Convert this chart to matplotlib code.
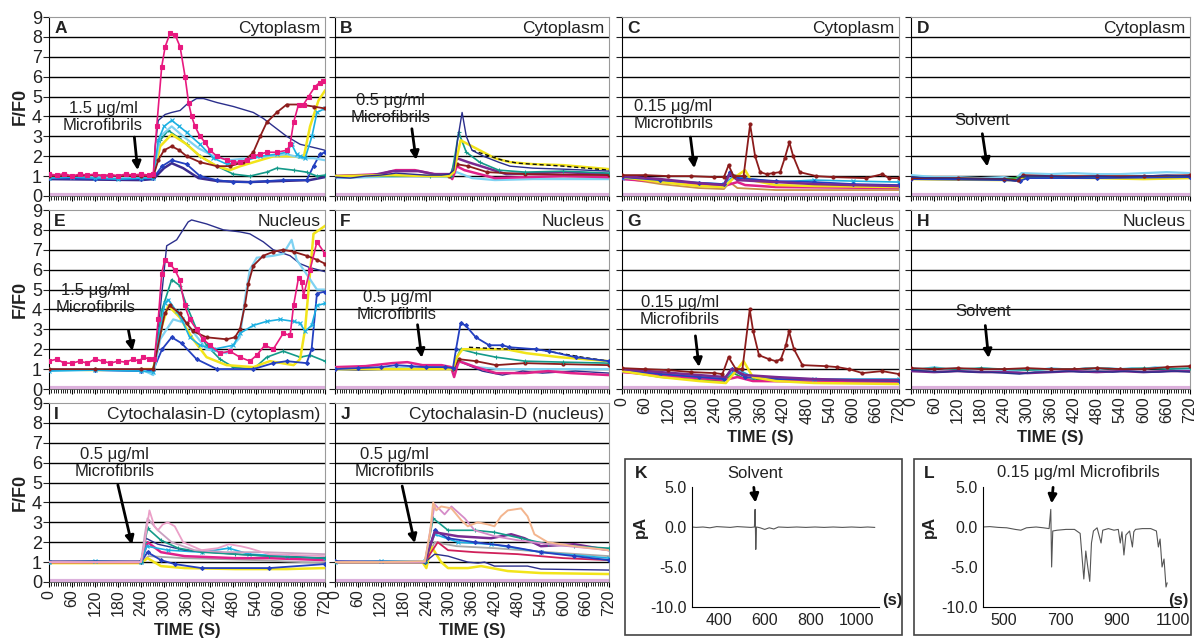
import matplotlib.pyplot as plt
from matplotlib.patches import Rectangle
from matplotlib.ticker import MultipleLocator

plt.rcParams['font.family'] = ['Liberation Sans', 'DejaVu Sans']

# ---- calcium imaging traces, (time s, F/F0) knots ----
A_PINK = [(0, 1.1), (20, 1.05), (40, 1.12), (60, 1.0), (80, 1.1), (100, 1.05), (120, 1.1), (140, 1.0),
          (160, 1.08), (180, 1.02), (200, 1.1), (220, 1.05), (240, 1.1), (260, 1.05), (272, 1.1),
          (281, 3.5), (294, 6.5), (303, 7.5), (316, 8.2), (329, 8.1), (342, 7.5), (355, 6.0), (364, 4.7),
          (372, 4.0), (381, 3.5), (394, 3.0), (407, 2.7), (420, 2.3), (438, 2.0), (464, 1.8), (481, 1.7),
          (499, 1.7), (516, 1.8), (533, 2.0), (550, 2.1), (568, 2.2), (594, 2.2), (621, 2.3), (629, 2.6),
          (638, 3.7), (651, 4.6), (664, 4.6), (677, 5.0), (694, 5.5), (706, 5.7), (716, 5.8)]
A_NAVY = [(0, 1.0), (60, 0.95), (120, 0.9), (180, 0.92), (240, 0.9), (272, 0.95), (277, 2.5), (285, 3.8),
          (303, 4.1), (320, 4.2), (342, 4.3), (359, 4.6), (385, 4.9), (403, 4.9), (438, 4.7), (481, 4.5),
          (533, 4.2), (559, 3.9), (586, 3.5), (620, 3.0), (655, 2.6), (699, 2.4), (720, 2.3)]
A_BROWN = [(0, 1.0), (60, 1.0), (120, 1.05), (180, 1.0), (240, 1.0), (272, 1.0), (285, 1.8), (300, 2.3),
           (320, 2.5), (340, 2.3), (359, 2.0), (394, 1.7), (438, 1.5), (472, 1.5), (507, 1.7), (533, 2.2),
           (551, 3.0), (568, 3.7), (594, 4.2), (620, 4.6), (655, 4.6), (690, 4.5), (720, 4.4)]
A_CYAN = [(0, 0.9), (60, 0.95), (120, 0.9), (180, 0.85), (240, 0.9), (272, 0.9), (285, 2.8), (300, 3.5),
          (320, 3.8), (340, 3.5), (359, 3.2), (394, 2.6), (429, 1.9), (464, 1.6), (499, 1.7), (551, 2.0),
          (594, 2.1), (620, 2.2), (633, 2.6), (646, 2.1), (655, 2.0), (668, 1.9), (686, 3.0), (699, 4.2),
          (720, 4.4)]
A_SKY = [(0, 1.0), (120, 0.95), (240, 0.95), (272, 1.0), (290, 3.0), (320, 3.5), (350, 3.0), (390, 2.4),
         (430, 2.0), (470, 1.8), (520, 1.9), (570, 2.0), (620, 2.1), (660, 1.9), (690, 1.9), (720, 1.8)]
A_YELLOW = [(0, 1.0), (120, 1.0), (240, 0.95), (272, 1.0), (290, 2.5), (320, 3.1), (359, 2.6), (394, 2.0),
            (438, 1.5), (472, 1.3), (499, 1.5), (551, 1.8), (586, 2.0), (638, 2.0), (664, 1.9), (681, 3.5),
            (703, 4.8), (720, 5.3)]
A_TEAL = [(0, 1.0), (120, 1.0), (240, 0.95), (272, 1.0), (290, 2.8), (311, 3.3), (340, 2.9), (359, 2.6),
          (394, 2.0), (438, 1.5), (481, 1.1), (524, 1.0), (568, 1.2), (594, 1.4), (638, 1.3), (672, 1.2),
          (699, 1.0), (720, 1.05)]
A_BLUE = [(0, 0.9), (120, 0.85), (240, 0.85), (272, 0.9), (295, 1.5), (320, 1.8), (359, 1.6), (394, 1.0),
          (438, 0.8), (481, 0.7), (524, 0.7), (568, 0.75), (611, 0.8), (672, 0.8), (690, 1.5), (707, 2.1),
          (720, 2.2)]
A_INDIGO = [(0, 0.85), (240, 0.8), (272, 0.85), (300, 1.4), (320, 1.65), (350, 1.4), (390, 0.9), (440, 0.75),
            (520, 0.7), (600, 0.75), (680, 0.8), (720, 0.95)]

B_NAVY = [(0, 0.95), (40, 0.9), (80, 1.0), (120, 1.05), (160, 1.15), (200, 1.1), (240, 1.05), (280, 1.05),
          (300, 1.1), (312, 1.3), (322, 2.8), (334, 4.2), (345, 3.0), (360, 2.3), (390, 2.0), (430, 1.7),
          (460, 1.5), (520, 1.4), (600, 1.35), (660, 1.3), (720, 1.25)]
B_YELLOW = [(0, 1.0), (150, 1.05), (250, 1.0), (300, 1.0), (312, 1.2), (330, 2.8), (350, 2.6), (380, 2.3),
            (420, 1.9), (460, 1.7), (520, 1.6), (600, 1.55), (660, 1.45), (720, 1.35)]
B_BLACK = [(360, 2.3), (400, 2.05), (440, 1.8), (480, 1.65), (520, 1.6), (600, 1.5), (660, 1.4), (720, 1.3)]
B_TEAL = [(0, 1.0), (250, 1.0), (305, 1.0), (315, 2.0), (325, 3.2), (345, 2.2), (380, 1.7), (430, 1.3),
          (500, 1.2), (600, 1.25), (720, 1.15)]
B_PURPLE = [(0, 1.0), (100, 1.05), (150, 1.25), (220, 1.25), (260, 1.1), (305, 1.1), (320, 1.9), (350, 1.7),
            (400, 1.4), (450, 1.1), (520, 1.15), (600, 1.2), (720, 1.1)]
B_MAGENTA = [(0, 1.0), (120, 1.1), (160, 1.3), (210, 1.3), (260, 1.1), (300, 1.05), (308, 0.85), (320, 1.5),
             (340, 1.3), (380, 1.1), (420, 0.9), (500, 0.95), (600, 1.0), (720, 0.95)]
B_SKY = [(0, 0.9), (100, 0.95), (200, 1.0), (300, 0.95), (320, 1.2), (360, 0.9), (420, 0.8), (520, 0.85),
         (720, 0.85)]
B_BROWN = [(0, 1.0), (300, 1.0), (320, 1.6), (350, 1.5), (400, 1.2), (500, 1.1), (720, 1.05)]

C_BROWN = [(0, 1.05), (60, 1.05), (120, 1.0), (180, 1.0), (240, 0.95), (265, 0.95), (277, 1.55), (290, 1.0),
           (316, 1.0), (333, 3.6), (346, 2.0), (359, 1.2), (376, 1.1), (393, 1.15), (411, 1.2), (423, 1.9),
           (435, 2.7), (445, 2.0), (462, 1.2), (505, 1.0), (548, 0.95), (634, 0.9), (677, 1.1), (694, 0.9),
           (720, 0.9)]
C_PURPLE = [(0, 1.0), (100, 0.85), (200, 0.65), (265, 0.55), (280, 1.1), (300, 0.8), (400, 0.7), (500, 0.6),
            (600, 0.55), (720, 0.5)]
C_TAN = [(0, 0.9), (100, 0.6), (200, 0.4), (265, 0.35), (280, 0.7), (300, 0.4), (400, 0.3), (500, 0.3),
         (720, 0.3)]
C_YELLOW = [(0, 0.95), (100, 0.7), (200, 0.5), (265, 0.45), (290, 0.9), (320, 1.3), (335, 0.8), (400, 0.55),
            (500, 0.5), (720, 0.45)]
C_BLUE = [(0, 0.95), (100, 0.8), (200, 0.65), (265, 0.6), (280, 1.2), (300, 0.9), (400, 0.75), (500, 0.7),
          (600, 0.6), (720, 0.55)]
C_CYAN = [(0, 0.9), (265, 0.6), (290, 1.0), (320, 0.9), (400, 0.7), (500, 0.8), (600, 0.75), (720, 0.7)]
C_MAGENTA = [(0, 0.85), (265, 0.5), (300, 0.7), (320, 0.55), (400, 0.45), (720, 0.4)]

D_SKY = [(0, 1.05), (60, 0.95), (120, 0.95), (180, 0.9), (240, 0.95), (270, 0.85), (285, 1.15), (360, 1.1),
         (420, 1.15), (480, 1.1), (540, 1.1), (600, 1.15), (660, 1.2), (720, 1.15)]
D_NAVY = [(0, 0.95), (60, 0.9), (120, 0.88), (180, 0.85), (240, 0.85), (270, 0.75), (285, 1.0), (360, 1.0),
          (420, 0.95), (480, 1.0), (540, 0.95), (600, 1.0), (660, 1.05), (720, 1.0)]
D_BROWN = [(0, 0.9), (120, 0.9), (240, 0.85), (275, 0.8), (290, 1.05), (360, 1.0), (480, 1.0), (600, 1.0),
           (720, 1.05)]
D_YELLOW = [(0, 0.85), (240, 0.8), (280, 0.8), (300, 0.95), (480, 0.9), (600, 0.85), (720, 0.9)]
D_GREEN = [(0, 0.9), (240, 0.85), (285, 0.95), (480, 0.95), (720, 1.0)]
D_BLUE = [(0, 0.85), (240, 0.8), (280, 0.75), (300, 0.9), (480, 0.9), (720, 0.95)]

E_NAVY = [(0, 1.0), (120, 0.95), (240, 0.95), (270, 1.0), (276, 1.3), (298, 5.5), (307, 7.2), (333, 7.5),
          (363, 8.4), (372, 8.5), (411, 8.3), (455, 8.0), (498, 7.9), (524, 7.8), (559, 7.4), (585, 7.0),
          (629, 6.7), (655, 6.3), (681, 6.1), (720, 5.9)]
E_BROWN = [(0, 1.0), (120, 1.0), (240, 1.0), (272, 1.0), (302, 3.8), (315, 4.2), (341, 3.8), (359, 3.3),
           (376, 2.9), (411, 2.6), (463, 2.5), (485, 2.6), (498, 3.0), (511, 4.2), (520, 5.3), (533, 6.2),
           (559, 6.7), (585, 6.9), (611, 7.0), (638, 6.9), (672, 6.7), (699, 6.5), (720, 6.3)]
E_CYAN = [(0, 0.9), (120, 0.95), (240, 0.9), (272, 0.85), (290, 3.0), (302, 4.3), (311, 4.5), (333, 3.9),
          (346, 3.5), (367, 2.6), (394, 2.2), (429, 2.0), (481, 2.2), (498, 2.8), (533, 3.2), (568, 3.4),
          (603, 3.5), (638, 3.4), (655, 3.3), (668, 2.9), (685, 3.2), (699, 4.2), (720, 4.3)]
E_SKY = [(0, 1.0), (120, 1.0), (240, 1.0), (272, 0.7), (290, 2.5), (324, 3.5), (359, 3.3), (411, 2.0),
         (463, 1.8), (498, 2.6), (511, 4.5), (524, 6.0), (542, 6.6), (585, 6.7), (611, 6.8), (633, 7.5),
         (646, 6.5), (664, 6.0), (699, 5.0), (720, 5.0)]
E_PINK = [(0, 1.4), (20, 1.5), (40, 1.3), (60, 1.3), (80, 1.4), (100, 1.3), (120, 1.5), (140, 1.4),
          (160, 1.3), (180, 1.4), (200, 1.35), (220, 1.5), (235, 1.4), (246, 1.6), (262, 1.5), (275, 1.5),
          (285, 3.5), (294, 5.8), (302, 6.5), (315, 6.3), (328, 6.0), (341, 5.5), (354, 4.2), (367, 3.5),
          (385, 3.0), (402, 2.5), (420, 2.2), (446, 1.8), (472, 1.9), (498, 1.6), (524, 1.4), (542, 1.7),
          (563, 2.2), (585, 2.0), (611, 2.8), (629, 2.7), (638, 4.2), (651, 5.6), (659, 5.4), (664, 4.7),
          (681, 6.0), (699, 7.4), (720, 6.8)]
E_TEAL = [(0, 1.0), (120, 1.0), (240, 1.0), (272, 1.0), (295, 4.0), (320, 5.5), (341, 5.2), (359, 4.2),
          (385, 3.0), (411, 2.2), (446, 1.5), (481, 1.1), (533, 1.0), (568, 1.6), (611, 1.9), (655, 1.6),
          (681, 1.7), (720, 1.4)]
E_YELLOW = [(0, 1.0), (120, 0.95), (240, 1.0), (272, 1.0), (295, 3.2), (311, 4.2), (341, 3.6), (376, 2.5),
            (411, 1.6), (463, 1.2), (533, 1.1), (576, 1.4), (638, 1.2), (655, 1.5), (668, 3.0), (690, 7.8),
            (720, 8.2)]
E_BLUE = [(0, 0.95), (120, 0.95), (240, 0.9), (272, 0.95), (295, 2.0), (320, 2.6), (346, 2.3), (385, 1.5),
          (438, 1.0), (533, 1.0), (585, 1.3), (620, 1.4), (672, 1.3), (685, 2.0), (699, 4.8), (720, 4.9)]

F_BLUE = [(0, 1.0), (60, 1.05), (120, 1.1), (160, 1.2), (200, 1.15), (240, 1.1), (290, 1.1), (310, 1.05),
          (318, 2.0), (330, 3.3), (343, 3.2), (370, 2.6), (405, 2.2), (440, 2.2), (458, 2.1), (527, 2.0),
          (562, 1.9), (632, 1.6), (720, 1.4)]
F_BLACK = [(352, 2.1), (400, 2.05), (458, 2.0), (527, 2.0), (590, 1.8), (650, 1.6), (720, 1.4)]
F_YELLOW = [(0, 1.0), (150, 1.0), (250, 1.0), (310, 1.0), (320, 1.6), (335, 2.0), (400, 2.0), (450, 2.0),
            (503, 1.8), (590, 1.6), (720, 1.4)]
F_TEAL = [(0, 1.0), (310, 1.0), (318, 1.5), (330, 2.0), (370, 1.8), (423, 1.6), (500, 1.4), (600, 1.35),
          (720, 1.3)]
F_BROWN = [(0, 1.0), (310, 1.0), (325, 1.5), (370, 1.4), (423, 1.2), (500, 1.3), (600, 1.25), (720, 1.2)]
F_MAGENTA = [(0, 1.1), (80, 1.15), (150, 1.3), (190, 1.35), (230, 1.2), (280, 1.2), (305, 1.1), (313, 0.6),
             (325, 1.4), (370, 1.1), (423, 0.8), (500, 0.8), (560, 0.9), (620, 0.8), (720, 0.7)]
F_SKY = [(0, 1.0), (100, 1.0), (200, 1.1), (280, 1.1), (313, 1.0), (330, 1.4), (370, 1.1), (430, 1.0),
         (520, 1.0), (720, 1.0)]
F_NAVY = [(0, 1.0), (60, 0.95), (150, 1.0), (250, 1.05), (313, 1.0), (325, 1.4), (387, 0.9), (440, 0.7),
          (493, 0.9), (545, 0.8), (632, 0.9), (720, 0.8)]

G_BROWN = [(0, 1.05), (60, 1.0), (120, 0.95), (180, 0.85), (240, 0.8), (261, 0.75), (277, 1.6), (296, 1.0),
           (313, 1.0), (332, 4.0), (341, 2.9), (356, 1.7), (382, 1.5), (400, 1.4), (413, 1.5), (426, 2.2),
           (434, 2.9), (447, 2.0), (469, 1.2), (529, 1.15), (560, 1.1), (590, 1.0), (625, 0.8), (676, 0.9),
           (720, 0.75)]
G_PURPLE = [(0, 1.0), (100, 0.85), (200, 0.7), (270, 0.6), (285, 1.0), (320, 0.7), (400, 0.6), (500, 0.5),
            (600, 0.45), (720, 0.45)]
G_YELLOW = [(0, 0.9), (100, 0.6), (200, 0.4), (270, 0.3), (300, 1.0), (316, 1.4), (340, 0.6), (400, 0.4),
            (500, 0.3), (720, 0.25)]
G_BLUE = [(0, 0.95), (100, 0.75), (200, 0.6), (265, 0.5), (285, 1.0), (320, 0.6), (400, 0.5), (720, 0.4)]
G_GREEN = [(0, 0.9), (100, 0.6), (200, 0.45), (265, 0.4), (290, 0.8), (320, 0.5), (500, 0.35), (720, 0.3)]
G_CYAN = [(0, 0.95), (265, 0.55), (300, 1.0), (340, 0.6), (500, 0.5), (720, 0.5)]
G_MAGENTA = [(0, 0.85), (265, 0.45), (300, 0.6), (340, 0.4), (720, 0.35)]

H_SKY = [(0, 1.05), (30, 1.0), (60, 1.1), (90, 1.0), (120, 1.05), (150, 0.95), (180, 1.05), (210, 1.0),
         (240, 0.95), (270, 0.9), (300, 1.0), (330, 0.95), (360, 1.05), (390, 1.0), (420, 0.95), (450, 1.05),
         (480, 1.0), (510, 1.05), (540, 1.0), (570, 1.05), (600, 1.0), (630, 1.1), (660, 1.05), (690, 1.0),
         (720, 1.0)]
H_NAVY = [(0, 0.95), (40, 0.9), (80, 0.85), (120, 0.9), (160, 0.85), (200, 0.85), (240, 0.8), (280, 0.75),
          (320, 0.85), (360, 0.85), (400, 0.9), (440, 0.85), (480, 0.9), (520, 0.85), (560, 0.9), (600, 0.85),
          (640, 0.85), (680, 0.9), (720, 0.85)]
H_BROWN = [(0, 1.05), (60, 1.0), (120, 1.05), (180, 1.0), (240, 1.0), (300, 1.05), (360, 1.0), (420, 1.0),
           (480, 1.05), (540, 1.0), (600, 1.0), (660, 1.1), (720, 1.15)]
H_PURPLE = [(0, 0.9), (60, 0.85), (120, 0.9), (180, 0.85), (240, 0.85), (300, 0.8), (360, 0.85), (420, 0.9),
            (480, 0.85), (540, 0.9), (600, 0.85), (660, 0.9), (720, 0.9)]
H_TEAL = [(0, 1.0), (60, 1.05), (120, 1.0), (180, 1.05), (240, 1.0), (300, 0.95), (360, 1.0), (420, 1.0),
          (480, 1.05), (540, 1.0), (600, 1.05), (660, 1.0), (720, 1.05)]

I_PINK = [(0, 1.0), (120, 1.0), (240, 1.0), (248, 1.8), (262, 3.6), (275, 2.8), (284, 2.6), (297, 2.9),
          (310, 3.0), (328, 2.8), (350, 2.0), (398, 1.6), (440, 1.7), (469, 1.9), (500, 1.8), (522, 1.7),
          (574, 1.4), (650, 1.35), (720, 1.3)]
I_PLUM = [(0, 1.0), (240, 1.0), (250, 2.4), (257, 3.2), (284, 2.6), (320, 2.0), (380, 1.6), (460, 1.5),
          (560, 1.5), (720, 1.4)]
I_TEAL = [(0, 1.0), (240, 1.0), (250, 2.0), (257, 2.7), (292, 2.1), (337, 1.7), (398, 1.5), (486, 1.4),
          (574, 1.3), (720, 1.2)]
I_NAVY = [(0, 1.05), (240, 1.05), (253, 2.2), (284, 1.9), (354, 1.6), (416, 1.5), (486, 1.4), (574, 1.3),
          (720, 1.2)]
I_CYAN = [(0, 1.0), (120, 1.05), (240, 1.0), (255, 1.8), (310, 1.6), (398, 1.5), (469, 1.7), (522, 1.4),
          (620, 1.3), (720, 1.2)]
I_MAGENTA = [(0, 1.0), (240, 1.0), (257, 2.0), (292, 1.5), (354, 1.3), (486, 1.2), (574, 1.2), (720, 1.1)]
I_BLUE = [(0, 1.0), (240, 1.0), (257, 1.5), (292, 1.1), (328, 0.9), (398, 0.7), (574, 0.7), (720, 0.9)]
I_YELLOW = [(0, 0.95), (240, 0.95), (257, 1.2), (292, 0.8), (354, 0.7), (486, 0.65), (620, 0.65), (720, 0.7)]
I_GREY = [(0, 1.0), (240, 1.0), (260, 1.3), (350, 1.2), (450, 1.15), (540, 1.1), (720, 0.95)]

J_PEACH = [(0, 1.0), (120, 1.0), (236, 1.05), (250, 2.5), (258, 4.0), (266, 3.6), (279, 3.8), (306, 3.7),
           (332, 3.1), (349, 2.8), (375, 3.0), (401, 2.9), (419, 2.8), (436, 3.3), (454, 3.6), (489, 3.7),
           (506, 3.3), (524, 2.4), (559, 2.0), (629, 1.8), (720, 1.6)]
J_MAUVE = [(0, 1.0), (236, 1.0), (262, 3.9), (288, 3.4), (306, 3.8), (341, 3.2), (367, 2.6), (420, 2.3),
           (480, 2.1), (560, 1.9), (720, 1.6)]
J_TEAL = [(0, 1.0), (236, 1.0), (258, 3.2), (297, 2.6), (367, 2.6), (419, 2.5), (489, 2.2), (559, 1.9),
          (629, 1.8), (720, 1.7)]
J_PURPLE = [(0, 1.0), (236, 1.0), (262, 2.5), (323, 2.3), (410, 2.2), (463, 2.4), (498, 2.2), (541, 1.8),
            (629, 1.9), (720, 1.6)]
J_BLUE = [(0, 1.05), (236, 1.0), (262, 2.6), (297, 2.2), (367, 2.0), (454, 1.8), (541, 1.5), (629, 1.3),
          (720, 1.1)]
J_CYAN = [(0, 1.0), (120, 1.05), (236, 1.05), (262, 2.4), (323, 2.0), (410, 1.9), (541, 1.5), (720, 1.2)]
J_RED = [(0, 1.0), (236, 1.0), (270, 2.0), (297, 1.6), (367, 1.5), (480, 1.4), (600, 1.2), (720, 1.1)]
J_NAVY = [(0, 1.0), (236, 1.0), (262, 1.4), (297, 1.3), (349, 1.0), (376, 0.95), (393, 1.0), (419, 0.8),
          (506, 0.8), (541, 0.65), (720, 0.6)]
J_YELLOW = [(0, 1.0), (200, 1.0), (230, 1.0), (240, 0.7), (253, 1.8), (279, 1.0), (297, 0.7), (349, 0.7),
            (384, 0.8), (454, 0.55), (541, 0.45), (720, 0.4)]
J_GREY = [(0, 1.0), (236, 1.0), (262, 2.0), (320, 1.8), (420, 1.7), (560, 1.5), (720, 1.3)]

# ---- patch-clamp currents, (time s, pA) ----
K_CURRENT = [(282, 0.0), (300, -0.05), (330, 0.0), (360, -0.1), (390, 0.05), (420, 0.0), (450, -0.05),
             (480, 0.05), (510, 0.0), (540, -0.05), (555, 0.0), (558, 2.2), (561, -2.8), (564, 0.0),
             (580, -0.1), (600, -0.3), (620, -0.1), (640, -0.25), (660, 0.0), (700, -0.05), (740, 0.0),
             (780, -0.05), (820, 0.0), (860, -0.05), (900, 0.0), (940, -0.05), (980, 0.0), (1020, -0.05),
             (1050, 0.0), (1081, -0.05)]
L_CURRENT = [(426, 0.0), (450, 0.05), (480, -0.05), (510, -0.1), (540, -0.3), (560, -0.4), (580, -0.1),
             (614, 0.0), (640, -0.1), (660, -0.2), (666, 2.2), (669, -5.0), (673, -0.5), (689, -0.4),
             (720, -0.3), (750, -0.3), (770, -0.8), (783, -6.5), (790, -3.0), (797, -5.0), (804, -6.8),
             (810, -2.0), (817, -0.5), (830, -0.1), (844, -2.0), (850, -0.4), (870, -0.2), (890, -0.4),
             (905, -0.3), (912, -2.0), (918, -0.6), (925, -3.5), (932, -1.0), (945, -0.5), (955, -2.5),
             (960, -0.6), (966, -0.3), (990, -0.2), (1020, -0.2), (1040, -0.5), (1047, -2.5), (1053, -1.5),
             (1060, -5.0), (1067, -4.0), (1074, -7.5), (1078, -7.0)]

# line colour, marker, marker size, line width
STYLE = {
    'pink': ('#e8197f', 's', 3.2, 1.2),
    'navy': ('#2b2f8c', '', 0, 1.0),
    'brown': ('#8c1c1c', 'o', 2.2, 1.3),
    'cyan': ('#1cb0e2', 'x', 3.0, 1.2),
    'sky': ('#7fd2f2', '', 0, 1.6),
    'yellow': ('#f2e41a', '', 0, 1.8),
    'teal': ('#149a8a', '+', 3.0, 1.2),
    'blue': ('#2440c0', 'D', 2.0, 1.3),
    'indigo': ('#3b2b8f', '', 0, 1.8),
    'purple': ('#7a2a90', '', 0, 1.8),
    'magenta': ('#e0218a', '', 0, 1.8),
    'black': ('#111111', '', 0, 1.0),
    'tan': ('#c8904a', '', 0, 1.3),
    'green': ('#2e9e3e', '', 0, 1.3),
    'lpink': ('#eba0c8', '', 0, 1.3),
    'plum': ('#c9a0c0', '', 0, 1.3),
    'peach': ('#f3b58e', '', 0, 1.4),
    'mauve': ('#d58cc8', '', 0, 1.3),
    'red': ('#d0205a', '', 0, 1.3),
    'grey': ('#a8a8a8', '', 0, 1.3),
}

# column / row extents in figure pixels
W, H = 1200, 639
COLS = [(49, 325), (335, 609), (622, 899), (911, 1190)]
ROWS = [(17, 196), (210, 389), (403, 582)]

PANELS = [
    dict(letter='A', col=0, row=0, title='Cytoplasm', note='1.5 μg/ml\nMicrofibrils', note_xy=(141, 3.97),
         arrow=((222, 3.1), (232, 1.16)),
         traces=[('navy', A_NAVY), ('indigo', A_INDIGO), ('blue', A_BLUE), ('teal', A_TEAL), ('yellow', A_YELLOW),
                 ('sky', A_SKY), ('cyan', A_CYAN), ('brown', A_BROWN), ('pink', A_PINK)]),
    dict(letter='B', col=1, row=0, title='Cytoplasm', note='0.5 μg/ml\nMicrofibrils', note_xy=(146, 4.36),
         arrow=((201, 3.52), (214, 1.68)),
         traces=[('sky', B_SKY), ('magenta', B_MAGENTA), ('purple', B_PURPLE), ('brown', B_BROWN),
                 ('teal', B_TEAL), ('yellow', B_YELLOW), ('black', B_BLACK), ('navy', B_NAVY)]),
    dict(letter='C', col=2, row=0, title='Cytoplasm', note='0.15 μg/ml\nMicrofibrils', note_xy=(134, 4.07),
         arrow=((177, 3.1), (189, 1.26)),
         traces=[('tan', C_TAN), ('magenta', C_MAGENTA), ('cyan', C_CYAN), ('yellow', C_YELLOW),
                 ('blue', C_BLUE), ('purple', C_PURPLE), ('brown', C_BROWN)]),
    dict(letter='D', col=3, row=0, title='Cytoplasm', note='Solvent', note_xy=(183, 3.8),
         arrow=((183, 3.27), (198, 1.34)),
         traces=[('sky', D_SKY), ('yellow', D_YELLOW), ('green', D_GREEN), ('blue', D_BLUE),
                 ('brown', D_BROWN), ('navy', D_NAVY)]),
    dict(letter='E', col=0, row=1, title='Nucleus', note='1.5 μg/ml\nMicrofibrils', note_xy=(122, 4.53),
         arrow=((206, 3.08), (219, 1.78)),
         traces=[('navy', E_NAVY), ('teal', E_TEAL), ('yellow', E_YELLOW), ('blue', E_BLUE), ('sky', E_SKY),
                 ('cyan', E_CYAN), ('brown', E_BROWN), ('pink', E_PINK)]),
    dict(letter='F', col=1, row=1, title='Nucleus', note='0.5 μg/ml\nMicrofibrils', note_xy=(163, 4.18),
         arrow=((216, 3.37), (229, 1.43)),
         traces=[('sky', F_SKY), ('navy', F_NAVY), ('magenta', F_MAGENTA), ('brown', F_BROWN),
                 ('teal', F_TEAL), ('yellow', F_YELLOW), ('black', F_BLACK), ('blue', F_BLUE)]),
    dict(letter='G', col=2, row=1, title='Nucleus', note='0.15 μg/ml\nMicrofibrils', note_xy=(150, 3.93),
         arrow=((190, 2.81), (201, 0.97)), xlabels=True,
         traces=[('green', G_GREEN), ('magenta', G_MAGENTA), ('cyan', G_CYAN), ('blue', G_BLUE),
                 ('yellow', G_YELLOW), ('purple', G_PURPLE), ('brown', G_BROWN)]),
    dict(letter='H', col=3, row=1, title='Nucleus', note='Solvent', note_xy=(186, 3.88),
         arrow=((191, 3.33), (201, 1.42)), xlabels=True,
         traces=[('sky', H_SKY), ('teal', H_TEAL), ('brown', H_BROWN), ('purple', H_PURPLE), ('navy', H_NAVY)]),
    dict(letter='I', col=0, row=2, title='Cytochalasin-D (cytoplasm)', note='0.5 μg/ml\nMicrofibrils',
         note_xy=(172, 6.0), arrow=((178, 5.02), (218, 1.74)), xlabels=True,
         traces=[('grey', I_GREY), ('yellow', I_YELLOW), ('blue', I_BLUE), ('magenta', I_MAGENTA),
                 ('cyan', I_CYAN), ('navy', I_NAVY), ('teal', I_TEAL), ('plum', I_PLUM), ('lpink', I_PINK)]),
    dict(letter='J', col=1, row=2, title='Cytochalasin-D (nucleus)', note='0.5 μg/ml\nMicrofibrils',
         note_xy=(157, 5.98), arrow=((175, 4.96), (211, 1.82)), xlabels=True,
         traces=[('grey', J_GREY), ('yellow', J_YELLOW), ('navy', J_NAVY), ('red', J_RED), ('cyan', J_CYAN),
                 ('blue', J_BLUE), ('purple', J_PURPLE), ('teal', J_TEAL), ('mauve', J_MAUVE),
                 ('peach', J_PEACH)]),
]

TEXT = '#222222'


def px_axes(fig, x0, x1, y0, y1):
    return fig.add_axes([x0 / W, 1 - y1 / H, (x1 - x0) / W, (y1 - y0) / H])


fig = plt.figure(figsize=(12, 6.39), dpi=100)

for p in PANELS:
    x0, x1 = COLS[p['col']]
    y0, y1 = ROWS[p['row']]
    ax = px_axes(fig, x0, x1, y0, y1)
    ax.set_xlim(0, 720)
    ax.set_ylim(0, 9)

    for key, pts in p['traces']:
        color, marker, ms, lw = STYLE[key]
        t = [a for a, _ in pts]
        v = [b for _, b in pts]
        ls = (0, (3, 2)) if key == 'black' else '-'
        ax.plot(t, v, color=color, lw=lw, ls=ls, marker=marker or None, ms=ms, mew=0.8, zorder=3)

    # horizontal grid and the flat lavender base trace
    for g in range(1, 9):
        ax.axhline(g, color='black', lw=1.0, zorder=1)
    ax.axhline(0.07, color='#dcb0dc', lw=3.0, zorder=2)

    for side in ('top', 'right'):
        ax.spines[side].set_color('#9a9a9a')
    ax.spines['left'].set_color('black')
    ax.spines['bottom'].set_color('#555555')
    ax.spines['bottom'].set_linewidth(0.6)

    ax.set_yticks(range(10))
    ax.xaxis.set_major_locator(MultipleLocator(60))
    ax.xaxis.set_minor_locator(MultipleLocator(6))
    ax.tick_params(axis='y', length=4, width=0.8, labelsize=13, pad=1, colors=TEXT)
    ax.tick_params(axis='x', which='major', length=3.5, width=0.8, direction='out')
    ax.tick_params(axis='x', which='minor', length=3, width=0.6, direction='out')
    if p['col'] != 0:
        ax.tick_params(axis='y', labelleft=False)
    else:
        ax.set_ylabel('F/F0', fontsize=13, fontweight='bold', color=TEXT, labelpad=2)

    if p.get('xlabels'):
        ax.tick_params(axis='x', labelrotation=90, labelsize=11.5, labelcolor=TEXT, pad=2)
        ax.set_xlabel('TIME (S)', fontsize=12, fontweight='bold', color=TEXT, labelpad=5)
    else:
        ax.tick_params(axis='x', labelbottom=False)

    ax.text(14, 8.4, p['letter'], fontsize=12.5, fontweight='bold', color=TEXT, va='center', ha='left')
    ax.text(708, 8.4, p['title'], fontsize=12.5, color=TEXT, va='center', ha='right')
    ax.text(p['note_xy'][0], p['note_xy'][1], p['note'], fontsize=12, color=TEXT, ha='center', va='center',
            linespacing=1.15, zorder=5)
    (tx, ty), (hx, hy) = p['arrow']
    ax.annotate('', xy=(hx, hy), xytext=(tx, ty),
                arrowprops=dict(arrowstyle='-|>,head_width=0.25,head_length=0.5', color='black', lw=2),
                zorder=6)

# ---- current recordings K and L ----
CURRENTS = [
    dict(letter='K', frame=(625, 902), axx=(692, 879), xlim=(282, 1100), xt=[400, 600, 800, 1000],
         data=K_CURRENT, ylab_x=640, s_x=892, note='Solvent', note_x=755, arrow=((551, 5.3), (561, 2.7))),
    dict(letter='L', frame=(914, 1191), axx=(983, 1179), xlim=(426, 1120), xt=[500, 700, 900, 1100],
         data=L_CURRENT, ylab_x=929, s_x=1178, note='0.15 μg/ml Microfibrils', note_x=1078,
         arrow=((675, 5.3), (668, 2.6))),
]

for c in CURRENTS:
    f0, f1 = c['frame']
    fig.patches.append(Rectangle((f0 / W, 1 - 635 / H), (f1 - f0) / W, (635 - 459) / H,
                                 transform=fig.transFigure, fill=False, ec='#444444', lw=1.2))
    ax = px_axes(fig, c['axx'][0], c['axx'][1], 487, 607)
    t = [a for a, _ in c['data']]
    v = [b for _, b in c['data']]
    ax.plot(t, v, color='#555555', lw=0.8)
    ax.set_xlim(*c['xlim'])
    ax.set_ylim(-10, 5)
    ax.set_yticks([5, 0, -5, -10])
    ax.set_yticklabels(['5.0', '0.0', '-5.0', '-10.0'])
    ax.set_xticks(c['xt'])
    for side in ('top', 'right'):
        ax.spines[side].set_visible(False)
    ax.tick_params(length=0, labelsize=11.5, labelcolor=TEXT, pad=4)
    fig.text(c['ylab_x'] / W, 1 - 527 / H, 'pA', fontsize=12, fontweight='bold', color=TEXT,
             rotation=90, va='center', ha='center')
    fig.text(c['s_x'] / W, 1 - 600 / H, '(s)', fontsize=12, fontweight='bold', color=TEXT,
             va='center', ha='center')
    fig.text((f0 + 10) / W, 1 - 473 / H, c['letter'], fontsize=12.5, fontweight='bold', color=TEXT, va='center')
    fig.text(c['note_x'] / W, 1 - 473 / H, c['note'], fontsize=12, color=TEXT, va='center', ha='center')
    (tx, ty), (hx, hy) = c['arrow']
    ax.annotate('', xy=(hx, hy), xytext=(tx, ty), annotation_clip=False,
                arrowprops=dict(arrowstyle='-|>,head_width=0.25,head_length=0.5', color='black', lw=2))

fig.savefig('out.png', dpi=100)
